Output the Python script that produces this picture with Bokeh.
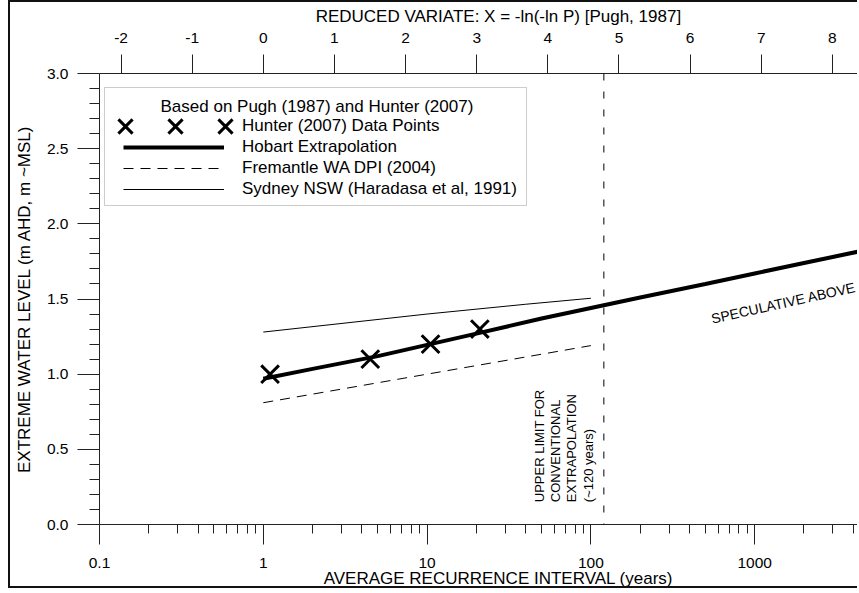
import math
from bokeh.plotting import figure
from bokeh.models import (LogAxis, FixedTicker, CustomJSTickFormatter, Span, Label, Legend,
                          LegendItem, BoxAnnotation, Range1d)
from bokeh.core.properties import value
from bokeh.embed import file_html
from bokeh.resources import INLINE

# ---------------- data ----------------
hunter_ari = [1.1, 4.5, 10.5, 21.0]
hunter_level = [1.00, 1.10, 1.20, 1.30]

hobart_ari = [1, 2, 5, 10, 20, 50, 100, 200, 500, 1000, 2000, 5000]
hobart_level = [0.97, 1.035, 1.12, 1.195, 1.27, 1.37, 1.44, 1.51, 1.60, 1.67, 1.74, 1.83]

fremantle_ari = [1, 10, 100]
fremantle_level = [0.81, 1.00, 1.19]

sydney_ari = [1, 10, 40, 100]
sydney_level = [1.28, 1.40, 1.465, 1.505]

limit_ari = 120

x_ticks = [0.1, 1, 10, 100, 1000]
x_tick_labels = ["0.1", "1", "10", "100", "1000"]
x_minor_ticks = [0.2, 0.3, 0.4, 0.5, 0.6, 0.7, 0.8, 0.9,
                 2, 3, 4, 5, 6, 7, 8, 9,
                 20, 30, 40, 50, 60, 70, 80, 90,
                 200, 300, 400, 500, 600, 700, 800, 900,
                 2000, 3000, 4000, 5000, 6000, 7000, 8000, 9000]
variate_ticks = [-2, -1, 0, 1, 2, 3, 4, 5, 6, 7, 8]
variate_labels = ["-2", "-1", "0", "1", "2", "3", "4", "5", "6", "7", "8"]
y_ticks = [0.0, 0.5, 1.0, 1.5, 2.0, 2.5, 3.0]
y_tick_labels = ["0.0", "0.5", "1.0", "1.5", "2.0", "2.5", "3.0"]
y_minor_ticks = [0.1, 0.2, 0.3, 0.4, 0.6, 0.7, 0.8, 0.9, 1.1, 1.2, 1.3, 1.4, 1.6, 1.7, 1.8, 1.9,
                 2.1, 2.2, 2.3, 2.4, 2.6, 2.7, 2.8, 2.9]

x_title = "AVERAGE RECURRENCE INTERVAL (years)"
top_title = "REDUCED VARIATE: X = -ln(-ln P) [Pugh, 1987]"
y_title = "EXTREME WATER LEVEL (m AHD, m ~MSL)"
legend_title = "Based on Pugh (1987) and Hunter (2007)"
legend_labels = ["Hunter (2007) Data Points", "Hobart Extrapolation",
                 "Fremantle WA DPI (2004)", "Sydney NSW (Haradasa et al, 1991)"]
limit_text = ["UPPER LIMIT FOR", "CONVENTIONAL", "EXTRAPOLATION", "(~120 years)"]
speculative_text = "SPECULATIVE ABOVE"

# ---------------- layout ----------------
FONT = "Liberation Sans"
NB = "\u00a0"
X_START, X_END = 0.1, 4365
Y_START, Y_END = 0.0, 3.0
FRAME_W, FRAME_H = 760, 451
# page pixel of frame left / bottom (used only to place decorations)
PX_LEFT, PY_BOTTOM = 99.0, 524.0


def px_to_ari(px):
    return 10 ** (math.log10(X_START) + (px - PX_LEFT) / FRAME_W * (math.log10(X_END) - math.log10(X_START)))


def py_to_level(py):
    return (PY_BOTTOM - py) / FRAME_H * (Y_END - Y_START)


p = figure(width=849, height=588, x_axis_type="log",
           x_range=Range1d(X_START, X_END), y_range=Range1d(Y_START, Y_END),
           output_backend="svg", toolbar_location=None,
           min_border_left=89, min_border_right=0, min_border_top=71, min_border_bottom=66)
p.xgrid.visible = False
p.ygrid.visible = False
p.outline_line_color = None
p.background_fill_color = "white"
p.border_fill_color = "white"
p.styles = {"border-left": "2px solid #111", "border-top": "2px solid #111",
            "border-bottom": "2px solid #111", "margin-top": "0px", "margin-left": "8px"}

log_fmt_code = """
let best = 0;
for (let i = 1; i < tvals.length; i++) {
  if (Math.abs(Math.log(tvals[i]) - Math.log(tick)) < Math.abs(Math.log(tvals[best]) - Math.log(tick))) best = i;
}
return tlabels[best];
"""
lin_fmt_code = """
let best = 0;
for (let i = 1; i < tvals.length; i++) {
  if (Math.abs(tvals[i] - tick) < Math.abs(tvals[best] - tick)) best = i;
}
return tlabels[best];
"""

AX = "#222222"


def style_axis(ax, label_size="15.5px"):
    ax.axis_line_color = AX
    ax.major_tick_line_color = AX
    ax.minor_tick_line_color = AX
    ax.major_tick_in = 0
    ax.minor_tick_in = 0
    ax.major_label_text_font = FONT
    ax.major_label_text_font_size = label_size
    ax.major_label_text_color = "black"
    ax.axis_label_text_font = FONT
    ax.axis_label_text_font_size = "17px"
    ax.axis_label_text_font_style = "normal"
    ax.axis_label_text_color = "black"


# bottom axis
xb = p.xaxis[0]
xb.ticker = FixedTicker(ticks=x_ticks, minor_ticks=x_minor_ticks)
xb.formatter = CustomJSTickFormatter(args=dict(tvals=x_ticks, tlabels=x_tick_labels), code=log_fmt_code)
style_axis(xb)
xb.major_tick_out = 20
xb.minor_tick_out = 9
xb.major_label_standoff = 13
xb.axis_label = NB * 8 + x_title
xb.axis_label_standoff = -2

# top axis (reduced variate X = ln T)
variate_pos = [math.exp(v) for v in variate_ticks]
xt = LogAxis(ticker=FixedTicker(ticks=variate_pos, minor_ticks=[]),
             formatter=CustomJSTickFormatter(args=dict(tvals=variate_pos, tlabels=variate_labels),
                                             code=log_fmt_code))
style_axis(xt)
xt.major_tick_out = 19
xt.minor_tick_out = 0
xt.major_label_standoff = 12
xt.axis_label = NB * 8 + top_title
xt.axis_label_standoff = 4
p.add_layout(xt, "above")

# left axis
yl = p.yaxis[0]
yl.ticker = FixedTicker(ticks=y_ticks, minor_ticks=y_minor_ticks)
yl.formatter = CustomJSTickFormatter(args=dict(tvals=y_ticks, tlabels=y_tick_labels), code=lin_fmt_code)
style_axis(yl)
yl.major_tick_out = 22
yl.minor_tick_out = 10
yl.major_label_standoff = 9
yl.axis_label = y_title
yl.axis_label_standoff = 10

# ---------------- data marks ----------------
r_syd = p.line(sydney_ari, sydney_level, line_color="black", line_width=1)
r_fre = p.line(fremantle_ari, fremantle_level, line_color="black", line_width=1, line_dash="10 7")
r_hob = p.line(hobart_ari, hobart_level, line_color="black", line_width=4)
r_hun = p.scatter(hunter_ari, hunter_level, marker="x", size=25, line_color="black", line_width=3)

p.add_layout(Span(location=limit_ari, dimension="height", line_color="black",
                  line_width=1, line_dash="7 11"))

# ---------------- texts ----------------
limit_px = [539.3, 555.0, 571.0, 588.0]
for t, px in zip(limit_text, limit_px):
    p.add_layout(Label(x=px_to_ari(px), y=py_to_level(501.7), text=t, angle=math.pi / 2,
                       text_align="left", text_baseline="middle", text_font=FONT,
                       text_font_size="13px", text_color="black"))

p.add_layout(Label(x=px_to_ari(711), y=py_to_level(318.3), text=speculative_text,
                   angle=math.radians(12.5), text_align="left", text_baseline="alphabetic",
                   text_font=FONT, text_font_size="14px", text_color="black"))

# ---------------- legend ----------------
p.add_layout(BoxAnnotation(left=px_to_ari(104), right=px_to_ari(526),
                           top=py_to_level(87), bottom=py_to_level(205),
                           fill_color="white", fill_alpha=1.0, line_color="#555555", line_width=1))

p.add_layout(Label(x=px_to_ari(160), y=py_to_level(105.5), text=legend_title,
                   text_align="left", text_baseline="middle", text_font=FONT,
                   text_font_size="17px", text_color="black"))

legend = Legend(items=[LegendItem(label=value(legend_labels[0]), renderers=[]),
                       LegendItem(label=value(legend_labels[1]), renderers=[r_hob]),
                       LegendItem(label=value(legend_labels[2]), renderers=[r_fre]),
                       LegendItem(label=value(legend_labels[3]), renderers=[r_syd])],
                location=(24, 325), orientation="vertical",
                padding=0, margin=0, spacing=1,
                glyph_width=101, glyph_height=20, label_height=20, label_width=20, label_standoff=18,
                border_line_color=None, background_fill_alpha=0.0,
                label_text_font=FONT, label_text_font_size="17px", label_text_color="black")
p.add_layout(legend)

x_legend = Legend(items=[LegendItem(label=value(""), renderers=[r_hun]) for _ in range(3)],
                  location=(1, 373), orientation="horizontal",
                  padding=0, margin=0, spacing=-2,
                  glyph_width=50, glyph_height=50, label_height=0, label_width=0, label_standoff=0,
                  border_line_color=None, background_fill_alpha=0.0)
p.add_layout(x_legend)

open("out.html", "w").write(file_html(p, INLINE))
